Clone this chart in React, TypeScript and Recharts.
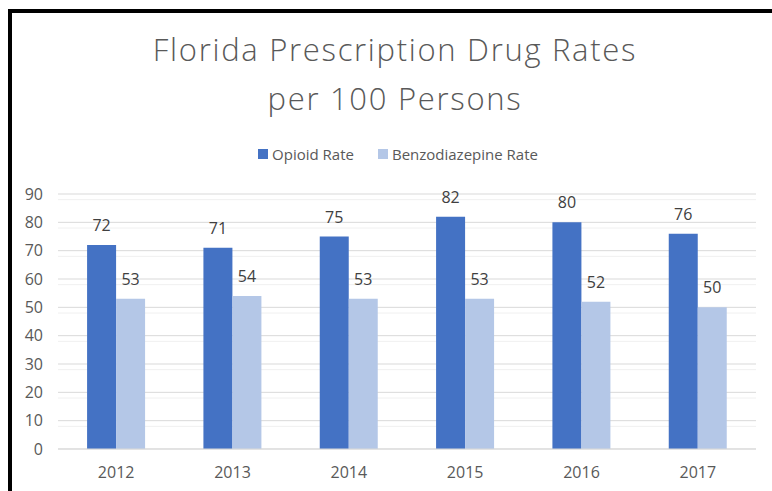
import { BarChart, Bar, XAxis, YAxis, CartesianGrid, LabelList, Legend } from "recharts";

const years = ["2012", "2013", "2014", "2015", "2016", "2017"];
const opioidRate = [72, 71, 75, 82, 80, 76];
const benzoRate = [53, 54, 53, 53, 52, 50];
const seriesNames = ["Opioid Rate", "Benzodiazepine Rate"];
const yTicks = [0, 10, 20, 30, 40, 50, 60, 70, 80, 90];
const minorTicks = [2, 4, 6, 8, 12, 14, 16, 18, 22, 24, 26, 28, 32, 34, 36, 38, 42, 44, 46, 48, 52, 54, 56, 58, 62, 64, 66, 68, 72, 74, 76, 78, 82, 84, 86, 88];

const data = years.map((year, i) => ({
  year,
  opioid: opioidRate[i],
  benzo: benzoRate[i],
}));

const FONT = "'Open Sans', sans-serif";
const TEXT = "#595959";

// legend like Excel: small squares, wide gap between items, series order kept
const LegendRow = (props: any) => {
  const items = [...(props.payload || [])].sort(
    (a: any, b: any) => seriesNames.indexOf(a.value) - seriesNames.indexOf(b.value)
  );
  return (
    <div style={{ display: "flex", justifyContent: "center", fontFamily: FONT, fontSize: 15, color: TEXT }}>
      {items.map((p: any) => (
        <div key={p.value} style={{ display: "flex", alignItems: "center", margin: "0 12px" }}>
          <span style={{ width: 10, height: 10, background: p.color, display: "inline-block", marginRight: 4 }} />
          {p.value}
        </div>
      ))}
    </div>
  );
};

export default function App() {
  return (
    <div style={{ position: "absolute", left: 0, top: 0, width: 772, height: 491, overflow: "hidden", background: "#fff" }}>
      <div style={{ position: "absolute", left: 8, top: 9, width: 900, height: 700, border: "4px solid #000" }} />
      <div
        style={{
          position: "absolute",
          top: 25,
          left: 0,
          width: 790,
          textAlign: "center",
          fontFamily: FONT,
          fontWeight: 300,
          fontSize: 31,
          letterSpacing: 1.7,
          lineHeight: "49px",
          color: TEXT,
        }}
      >
        Florida Prescription Drug Rates
        <br />
        per 100 Persons
      </div>
      <div style={{ position: "absolute", left: 0, top: 0 }}>
        <BarChart
          width={772}
          height={491}
          data={data}
          margin={{ top: 194, right: 16, bottom: 12, left: 0 }}
          barCategoryGap="25%"
          barGap={0}
        >
          <CartesianGrid vertical={false} horizontalValues={minorTicks} stroke="#F0F0F0" />
          <CartesianGrid vertical={false} stroke="#D9D9D9" />
          <XAxis
            dataKey="year"
            tickLine={false}
            axisLine={{ stroke: "#D9D9D9" }}
            tickMargin={12}
            tick={{ fill: TEXT, fontSize: 16, fontFamily: FONT }}
          />
          <YAxis
            width={58}
            domain={[0, 90]}
            ticks={yTicks}
            axisLine={false}
            tickLine={false}
            tickMargin={9}
            tick={{ fill: TEXT, fontSize: 16, fontFamily: FONT }}
          />
          <Legend
            verticalAlign="middle"
            align="center"
            content={<LegendRow />}
            wrapperStyle={{ top: 144, left: 0, width: 796 }}
          />
          <Bar dataKey="opioid" name={seriesNames[0]} fill="#4472C4" isAnimationActive={false}>
            <LabelList dataKey="opioid" position="top" offset={14} fill="#404040" fontSize={16} fontFamily={FONT} />
          </Bar>
          <Bar dataKey="benzo" name={seriesNames[1]} fill="#B4C7E7" isAnimationActive={false}>
            <LabelList dataKey="benzo" position="top" offset={14} fill="#404040" fontSize={16} fontFamily={FONT} />
          </Bar>
        </BarChart>
      </div>
    </div>
  );
}
